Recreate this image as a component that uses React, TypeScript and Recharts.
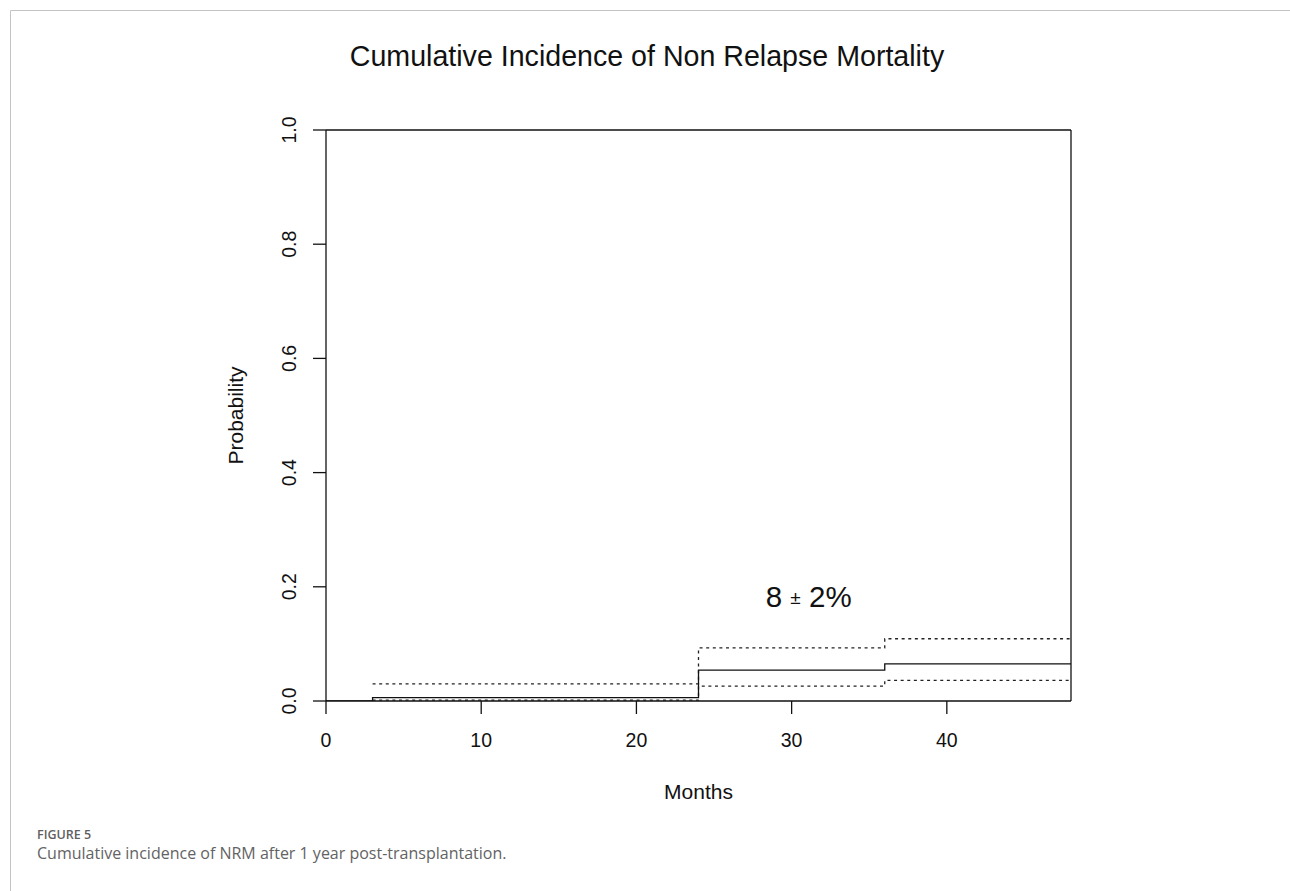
import React from 'react';
import { LineChart, Line, XAxis, YAxis, ReferenceLine, ReferenceDot } from 'recharts';

// ---- data ----
const months = [0, 3, 24, 36, 48];
const estimate = [0, 0.006, 0.054, 0.065, 0.065];
const upperCI: (number | null)[] = [null, 0.03, 0.093, 0.109, 0.109];
const lowerCI: (number | null)[] = [null, 0.0015, 0.026, 0.036, 0.036];

const xTicks = [0, 10, 20, 30, 40];
const yTicks = [0, 0.2, 0.4, 0.6, 0.8, 1.0];

const titleText = 'Cumulative Incidence of Non Relapse Mortality';
const xTitle = 'Months';
const yTitle = 'Probability';
const annotationMain = '8';
const annotationPm = '±';
const annotationRest = '2%';
const annotationAt = { x: 31.1, y: 0.165 };
const figureLabel = 'FIGURE 5';
const figureCaption = 'Cumulative incidence of NRM after 1 year post-transplantation.';

const data = months.map((t, i) => ({
  t,
  est: estimate[i],
  hi: upperCI[i],
  lo: lowerCI[i],
}));

const FONT = '"Liberation Sans", Arial, Helvetica, sans-serif';
const INK = '#111';

const XTick = (props: any) => {
  const { x, y, payload } = props;
  return (
    <text x={x} y={y + 31} textAnchor="middle" fontSize={19.5} fontFamily={FONT} fill={INK}>
      {String(payload.value)}
    </text>
  );
};

const YTick = (props: any) => {
  const { x, y, payload } = props;
  const bx = x - 15;
  return (
    <text
      x={bx}
      y={y}
      transform={`rotate(-90, ${bx}, ${y})`}
      textAnchor="middle"
      fontSize={19.5}
      fontFamily={FONT}
      fill={INK}
    >
      {Number(payload.value).toFixed(1)}
    </text>
  );
};

const XTitle = (props: any) => {
  const vb = props.viewBox || {};
  return (
    <text x={vb.x + vb.width / 2} y={vb.y + 98} textAnchor="middle" fontSize={21} fontFamily={FONT} fill={INK}>
      {xTitle}
    </text>
  );
};

const YTitle = (props: any) => {
  const vb = props.viewBox || {};
  const bx = vb.x - 23;
  const cy = vb.y + vb.height / 2;
  return (
    <text
      x={bx}
      y={cy}
      transform={`rotate(-90, ${bx}, ${cy})`}
      textAnchor="middle"
      fontSize={21}
      fontFamily={FONT}
      fill={INK}
    >
      {yTitle}
    </text>
  );
};

const Annotation = (props: any) => {
  const vb = props.viewBox || {};
  const cx = vb.x + (vb.width || 0) / 2;
  const cy = vb.y + (vb.height || 0) / 2;
  return (
    <text x={cx} y={cy} textAnchor="middle" fontSize={29.5} fontFamily={FONT} fill={INK}>
      <tspan>{annotationMain + ' '}</tspan>
      <tspan fontSize={19} dy={-3}>{annotationPm}</tspan>
      <tspan dy={3}>{' ' + annotationRest}</tspan>
    </text>
  );
};

export default function App() {
  return (
    <div style={{ position: 'absolute', left: 0, top: 0, width: 1290, height: 891, background: '#fff', overflow: 'hidden' }}>
      <svg width={1290} height={891} style={{ position: 'absolute', left: 0, top: 0 }}>
        <line x1={10.5} y1={10.5} x2={1290} y2={10.5} stroke="#c4c4c4" strokeWidth={1} />
        <line x1={10.5} y1={10.5} x2={10.5} y2={891} stroke="#c4c4c4" strokeWidth={1} />
        <text x={647} y={66} textAnchor="middle" fontSize={28.6} fontFamily={FONT} fill={INK}>
          {titleText}
        </text>
        <text x={37} y={838.5} fontSize={12.5} fontWeight={600} fontFamily='"Open Sans", sans-serif' fill="#5f5f5f">
          {figureLabel}
        </text>
        <text x={37} y={859} fontSize={16} fontFamily='"Open Sans", sans-serif' fill="#636363">
          {figureCaption}
        </text>
      </svg>
      <div style={{ position: 'absolute', left: 0, top: 0 }}>
        <LineChart
          width={1290}
          height={891}
          data={data}
          margin={{ top: 130, right: 219, bottom: 130, left: 266 }}
        >
          <XAxis
            dataKey="t"
            type="number"
            domain={[0, 48]}
            ticks={xTicks}
            allowDataOverflow
            height={60}
            tickSize={13}
            tick={<XTick />}
            axisLine={{ stroke: INK, strokeWidth: 1.3 }}
            tickLine={{ stroke: INK, strokeWidth: 1.3 }}
            label={{ value: xTitle, content: <XTitle /> }}
          />
          <YAxis
            type="number"
            domain={[0, 1]}
            ticks={yTicks}
            allowDataOverflow
            width={60}
            tickSize={13}
            tick={<YTick />}
            axisLine={{ stroke: INK, strokeWidth: 1.3 }}
            tickLine={{ stroke: INK, strokeWidth: 1.3 }}
            label={{ value: yTitle, content: <YTitle /> }}
          />
          <ReferenceLine y={1} stroke={INK} strokeWidth={1.3} />
          <ReferenceLine x={48} stroke={INK} strokeWidth={1.3} />
          <Line
            type="stepAfter"
            dataKey="hi"
            stroke="#222"
            strokeWidth={1.3}
            strokeDasharray="3 3.6"
            dot={false}
            activeDot={false}
            isAnimationActive={false}
          />
          <Line
            type="stepAfter"
            dataKey="lo"
            stroke="#222"
            strokeWidth={1.3}
            strokeDasharray="3 3.6"
            dot={false}
            activeDot={false}
            isAnimationActive={false}
          />
          <Line
            type="stepAfter"
            dataKey="est"
            stroke={INK}
            strokeWidth={1.3}
            dot={false}
            activeDot={false}
            isAnimationActive={false}
          />
          <ReferenceDot
            x={annotationAt.x}
            y={annotationAt.y}
            r={1}
            fill="none"
            stroke="none"
            label={<Annotation />}
          />
        </LineChart>
      </div>
    </div>
  );
}
